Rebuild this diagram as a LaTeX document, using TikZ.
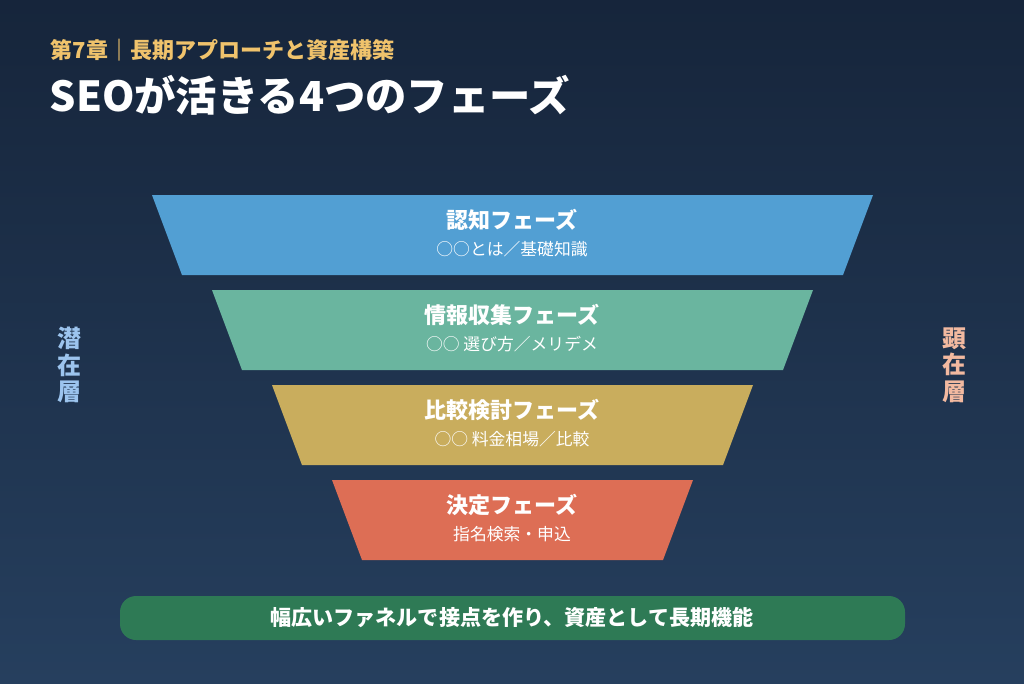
\documentclass[tikz,border=0pt]{standalone}
\usepackage{fontspec}
\setmainfont{Noto Sans CJK JP}
\definecolor{bgt}{RGB}{22,37,59}
\definecolor{bgb}{RGB}{38,63,94}
\definecolor{gold}{RGB}{240,195,108}
\definecolor{lb}{RGB}{156,196,238}
\definecolor{pe}{RGB}{242,185,160}
\definecolor{c1}{RGB}{82,159,211}
\definecolor{c2}{RGB}{106,181,159}
\definecolor{c3}{RGB}{201,173,93}
\definecolor{c4}{RGB}{221,110,85}
\definecolor{cb}{RGB}{46,122,85}
\begin{document}
\begin{tikzpicture}[x=0.75pt,y=-0.75pt,
  ttl/.style={text=white,font=\bfseries\fontsize{16.5}{18}\selectfont,anchor=center},
  sub/.style={text=white,font=\fontsize{12.6}{14}\selectfont,anchor=center},
  side/.style={font=\bfseries\fontsize{18}{20}\selectfont,align=center,anchor=center}]
\shade[top color=bgt,bottom color=bgb] (0,0) rectangle (1024,683);
\useasboundingbox (0,0) rectangle (1024,683);
\node[anchor=west,text=gold,font=\bfseries\fontsize{16.5}{18}\selectfont] (ch) at (46,50) {第7章｜長期アプローチと資産構築};
\node[anchor=west,text=white,font=\bfseries\fontsize{31}{34}\selectfont] (title) at (45,95) {SEOが活きる4つのフェーズ};
\fill[c1] (152,195)--(873,195)--(843,275)--(182,275)--cycle;
\fill[c2] (212,290)--(813,290)--(783,370)--(242,370)--cycle;
\fill[c3] (272,385)--(753,385)--(723,465)--(302,465)--cycle;
\fill[c4] (332,480)--(693,480)--(663,560)--(362,560)--cycle;
\node[ttl] (t1) at (512,220) {認知フェーズ};
\node[sub] (s1) at (512,249) {○○とは／基礎知識};
\node[ttl] (t2) at (512,315) {情報収集フェーズ};
\node[sub] (s2) at (512,344) {○○ 選び方／メリデメ};
\node[ttl] (t3) at (512,410) {比較検討フェーズ};
\node[sub] (s3) at (512,439) {○○ 料金相場／比較};
\node[ttl] (t4) at (512,505) {決定フェーズ};
\node[sub] (s4) at (512,534) {指名検索・申込};
\node[side,text=lb] (l) at (69,365) {潜\\在\\層};
\node[side,text=pe] (r) at (954,365) {顕\\在\\層};
\fill[cb,rounded corners=12] (120,596) rectangle (905,640);
\node[text=white,font=\bfseries\fontsize{15.8}{17}\selectfont] (bar) at (512,618) {幅広いファネルで接点を作り、資産として長期機能};
\end{tikzpicture}
\end{document}
